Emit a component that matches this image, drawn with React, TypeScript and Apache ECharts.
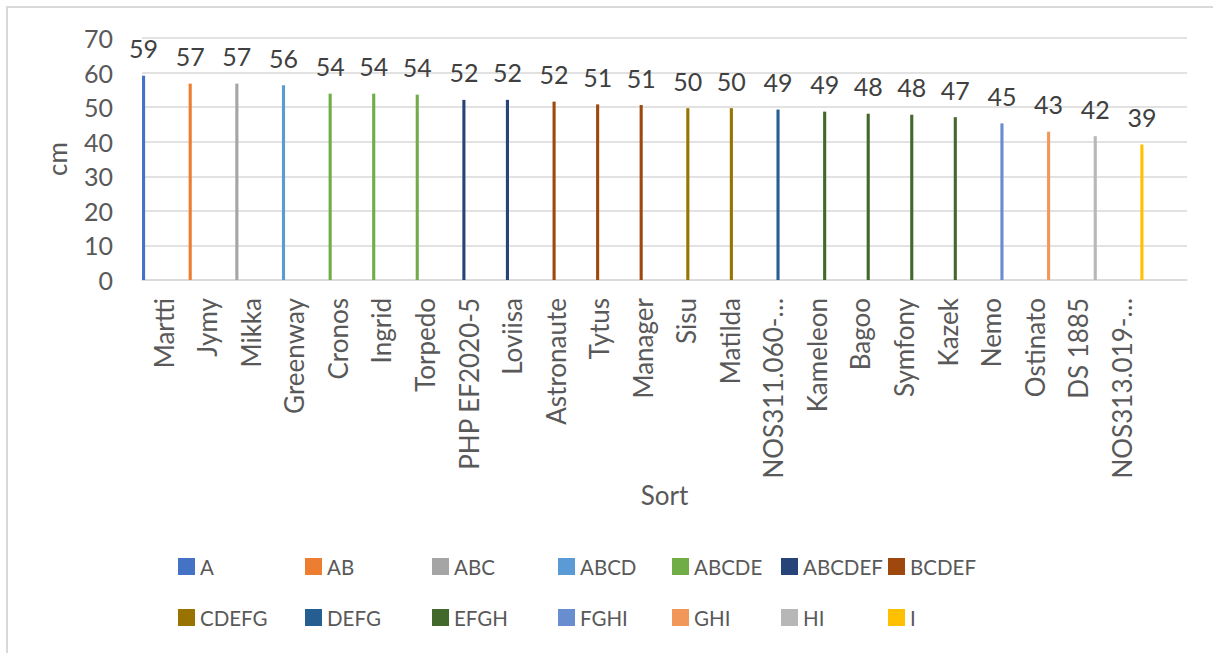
import React, { useEffect, useRef } from "react";
import * as echarts from "echarts";

// Sorts on the x axis, in plotted order
const sorts = [
  "Martti", "Jymy", "Mikka", "Greenway", "Cronos", "Ingrid", "Torpedo",
  "PHP EF2020-5", "Loviisa", "Astronaute", "Tytus", "Manager", "Sisu",
  "Matilda", "NOS311.060-…", "Kameleon", "Bagoo", "Symfony", "Kazek",
  "Nemo", "Ostinato", "DS 1885", "NOS313.019-…",
];

// Height (cm) of each sort
const heightCm = [
  59.1, 56.8, 56.8, 56.3, 53.9, 53.9, 53.6,
  52.1, 52.1, 51.6, 50.8, 50.6, 49.7,
  49.7, 49.3, 48.7, 48.1, 47.8, 47.1,
  45.3, 42.9, 41.6, 39.2,
];

// Statistical group each sort belongs to
const sortGroup = [
  "A", "AB", "ABC", "ABCD", "ABCDE", "ABCDE", "ABCDE",
  "ABCDEF", "ABCDEF", "BCDEF", "BCDEF", "BCDEF", "CDEFG",
  "CDEFG", "DEFG", "EFGH", "EFGH", "EFGH", "EFGH",
  "FGHI", "GHI", "HI", "I",
];

// Groups (one series each) and their colours
const groups = [
  "A", "AB", "ABC", "ABCD", "ABCDE", "ABCDEF", "BCDEF",
  "CDEFG", "DEFG", "EFGH", "FGHI", "GHI", "HI", "I",
];
const groupColors = [
  "#4472C4", "#ED7D31", "#A5A5A5", "#5B9BD5", "#70AD47", "#264478", "#9E480E",
  "#997300", "#255E91", "#43682B", "#698ED0", "#F1975A", "#B7B7B7", "#FFC000",
];

const yTicks = { min: 0, max: 70, interval: 10 };

const FONT = 'Lato, "Open Sans", sans-serif';
const TEXT = "#595959";
const GRID_LINE = "#d9d9d9";

// legend columns / rows (left edge of icon, top of item)
const legendCols = [178, 305, 432, 558, 672, 781, 888];
const legendRows = [556, 607];

export default function App() {
  const ref = useRef<HTMLDivElement>(null);

  useEffect(() => {
    if (!ref.current) return;
    const chart = echarts.init(ref.current, undefined, { renderer: "svg" });

    // an empty trailing slot on the category axis
    const axisCategories = [...sorts, ""];

    const series = groups.map((g, gi) => ({
      name: g,
      type: "bar",
      barGap: "0%",
      barCategoryGap: "0%",
      itemStyle: { color: groupColors[gi] },
      data: axisCategories.map((_, i) =>
        i < sorts.length && sortGroup[i] === g ? heightCm[i] : null
      ),
      label: {
        show: true,
        position: "top",
        distance: 15,
        color: "#404040",
        fontFamily: FONT,
        fontSize: 25,
        formatter: (p: any) => String(Math.round(p.value)),
      },
    }));

    const legends = groups.map((g, gi) => ({
      data: [g],
      left: legendCols[gi % 7],
      top: legendRows[Math.floor(gi / 7)],
      padding: 0,
      icon: "rect",
      itemWidth: 17,
      itemHeight: 17,
      selectedMode: false,
      textStyle: {
        color: TEXT,
        fontFamily: FONT,
        fontSize: 20.5,
      },
    }));

    chart.setOption({
      animation: false,
      backgroundColor: "#ffffff",
      textStyle: { fontFamily: FONT },
      graphic: [
        {
          type: "rect",
          shape: { x: 7, y: 7, width: 1300, height: 700 },
          style: { fill: "none", stroke: "#d9d9d9", lineWidth: 2 },
          silent: true,
        },
      ],
      grid: {
        left: 142,
        right: 26,
        top: 38,
        bottom: 373,
        containLabel: false,
        outerBoundsMode: "none",
      },
      legend: legends,
      xAxis: {
        type: "category",
        data: axisCategories,
        name: "Sort",
        nameLocation: "middle",
        nameGap: 198,
        nameTextStyle: { color: TEXT, fontFamily: FONT, fontSize: 26 },
        axisLine: { lineStyle: { color: GRID_LINE, width: 1.5 } },
        axisTick: { show: false },
        axisLabel: {
          rotate: 90,
          interval: 0,
          margin: 18,
          color: TEXT,
          fontFamily: FONT,
          fontSize: 26,
        },
      },
      yAxis: {
        type: "value",
        min: yTicks.min,
        max: yTicks.max,
        interval: yTicks.interval,
        name: "cm",
        nameLocation: "middle",
        nameRotate: 90,
        nameGap: 72,
        nameTextStyle: { color: TEXT, fontFamily: FONT, fontSize: 26 },
        axisLine: { show: false },
        axisTick: { show: false },
        axisLabel: { margin: 29, color: TEXT, fontFamily: FONT, fontSize: 25 },
        splitLine: { lineStyle: { color: GRID_LINE, width: 1.5 } },
      },
      series,
    });

    return () => chart.dispose();
  }, []);

  return (
    <div
      ref={ref}
      style={{ position: "absolute", left: 0, top: 0, width: 1213, height: 653 }}
    />
  );
}
